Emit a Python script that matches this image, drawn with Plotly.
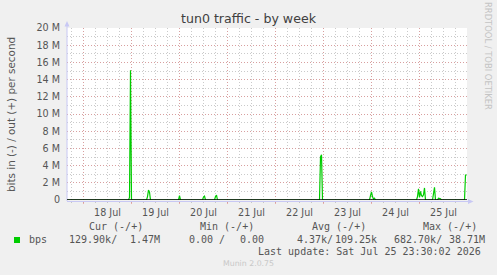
import pandas as pd
import plotly.graph_objects as go

# ---------------- data ----------------
times = [
    "2026-07-17 15:30", "2026-07-18 22:30", "2026-07-18 23:00", "2026-07-18 23:30", "2026-07-19 00:00",
    "2026-07-19 07:30", "2026-07-19 08:00", "2026-07-19 08:30", "2026-07-19 09:00", "2026-07-19 09:30",
    "2026-07-19 23:30", "2026-07-20 00:00", "2026-07-20 00:30",
    "2026-07-20 11:30", "2026-07-20 12:00", "2026-07-20 12:30", "2026-07-20 13:00",
    "2026-07-20 17:30", "2026-07-20 18:00", "2026-07-20 18:30", "2026-07-20 19:00",
    "2026-07-22 22:00", "2026-07-22 22:30", "2026-07-22 23:00", "2026-07-22 23:30",
    "2026-07-23 23:00", "2026-07-23 23:30", "2026-07-24 00:00", "2026-07-24 00:30", "2026-07-24 01:00",
    "2026-07-24 01:30", "2026-07-24 02:00",
    "2026-07-24 22:30", "2026-07-24 23:00", "2026-07-24 23:30", "2026-07-25 00:00", "2026-07-25 00:30",
    "2026-07-25 01:00", "2026-07-25 01:30", "2026-07-25 02:00", "2026-07-25 02:30", "2026-07-25 03:00",
    "2026-07-25 06:30", "2026-07-25 07:00", "2026-07-25 07:30", "2026-07-25 08:00",
    "2026-07-25 09:00", "2026-07-25 09:30", "2026-07-25 10:00", "2026-07-25 10:30", "2026-07-25 11:00",
    "2026-07-25 16:30", "2026-07-25 17:00", "2026-07-25 17:30",
    "2026-07-25 22:30", "2026-07-25 23:00", "2026-07-25 23:30",
]
out_bps = [
    0, 0, 0.3e6, 15.1e6, 0,
    0, 0.4e6, 1.15e6, 0.9e6, 0,
    0, 0.5e6, 0,
    0, 0.35e6, 0.45e6, 0,
    0, 0.4e6, 0.58e6, 0,
    0, 5.0e6, 5.25e6, 0,
    0, 0.5e6, 0.95e6, 0.4e6, 0.1e6,
    0.2e6, 0,
    0, 0.4e6, 1.3e6, 0.3e6, 1.0e6,
    0.5e6, 0.4e6, 0.6e6, 1.4e6, 0,
    0, 0.8e6, 1.48e6, 0,
    0, 0.2e6, 0.2e6, 0.15e6, 0,
    0, 0.08e6, 0,
    0, 2.9e6, 2.9e6,
]

day_labels = ["18 Jul", "19 Jul", "20 Jul", "21 Jul", "22 Jul", "23 Jul", "24 Jul", "25 Jul"]
day_noons = ["2026-07-18 12:00", "2026-07-19 12:00", "2026-07-20 12:00", "2026-07-21 12:00",
             "2026-07-22 12:00", "2026-07-23 12:00", "2026-07-24 12:00", "2026-07-25 12:00"]
midnights = ["2026-07-18", "2026-07-19", "2026-07-20", "2026-07-21", "2026-07-22",
             "2026-07-23", "2026-07-24", "2026-07-25"]
y_ticks = [0, 2e6, 4e6, 6e6, 8e6, 10e6, 12e6, 14e6, 16e6, 18e6, 20e6]
y_labels = ["0", "2 M", "4 M", "6 M", "8 M", "10 M", "12 M", "14 M", "16 M", "18 M", "20 M"]

x_range = ["2026-07-17 15:45", "2026-07-25 23:45"]

col_headers = ["Cur (-/+)", "Min (-/+)", "Avg (-/+)", "Max (-/+)"]
series_name = "bps"
values_text = ["129.90k/", "1.47M", "0.00 /", "0.00", "4.37k/", "109.25k", "682.70k/", "38.71M"]
last_update = "Last update: Sat Jul 25 23:30:02 2026"
footer = "Munin 2.0.75"
title = "tun0 traffic - by week"
y_title = "bits in (-) / out (+) per second"
side_text = "RRDTOOL / TOBI OETIKER"

# ---------------- layout geometry ----------------
W, H = 497, 275
L, T, PW, PH = 67, 28, 400, 172
R, B = W - L - PW, H - T - PH


def px(x):
    return (x - L) / PW


def py(y):
    return (T + PH - y) / PH


GREEN = "#00CC00"
MGRID = "rgba(225,130,130,0.6)"
GRID = "rgba(180,180,180,0.7)"
AXIS = "#C8C8F4"
TXT = "#555555"
MONO = "DejaVu Sans Mono"
SANS = "DejaVu Sans"

fig = go.Figure()
fig.add_trace(go.Scatter(
    x=pd.to_datetime(times), y=out_bps, mode="lines",
    line=dict(color=GREEN, width=1.2), hoverinfo="skip", showlegend=False,
))
# invisible trace for label axis
fig.add_trace(go.Scatter(
    x=pd.to_datetime(times[:1]), y=[0], mode="markers", marker=dict(opacity=0),
    xaxis="x2", hoverinfo="skip", showlegend=False,
))

fig.update_layout(
    width=W, height=H,
    margin=dict(l=L, r=R, t=T, b=B, pad=0),
    paper_bgcolor="#F0F0F0", plot_bgcolor="#FFFFFF",
    showlegend=False,
    xaxis=dict(
        type="date", range=x_range,
        tickmode="array", tickvals=pd.to_datetime(midnights), showticklabels=False,
        showgrid=True, gridcolor=MGRID, griddash="1px,2px", gridwidth=1,
        ticks="outside", ticklen=3, tickcolor=MGRID, tickwidth=1,
        minor=dict(dtick=6 * 3600 * 1000, tick0="2026-07-18", showgrid=True,
                   gridcolor=GRID, griddash="1px,2px", gridwidth=1,
                   ticks="outside", ticklen=2, tickcolor=GRID),
        showline=False, zeroline=False, fixedrange=True,
    ),
    xaxis2=dict(
        type="date", range=x_range, overlaying="x", anchor="y", side="bottom",
        tickmode="array", tickvals=pd.to_datetime(day_noons), ticktext=day_labels,
        showgrid=False, ticks="outside", ticklen=3, tickcolor="rgba(0,0,0,0)",
        tickfont=dict(family=SANS, size=9.6, color=TXT),
        showline=False, zeroline=False,
    ),
    yaxis=dict(
        range=[0, 20e6], tickmode="array", tickvals=y_ticks, ticktext=y_labels,
        showgrid=True, gridcolor=MGRID, griddash="1px,2px", gridwidth=1,
        minor=dict(dtick=1e6, showgrid=True, gridcolor=GRID, griddash="1px,2px", gridwidth=1),
        ticks="", ticklabelstandoff=6,
        tickfont=dict(family=SANS, size=9.6, color=TXT),
        showline=False, zeroline=False, fixedrange=True,
    ),
)

shapes = []
# y axis line with arrow
shapes.append(dict(type="line", xref="paper", yref="paper", x0=px(67), x1=px(67), y0=py(201), y1=py(24),
                   line=dict(color=AXIS, width=1), layer="above"))
shapes.append(dict(type="path", xref="paper", yref="paper",
                   path=f"M {px(67)} {py(21)} L {px(64.5)} {py(26.5)} L {px(69.5)} {py(26.5)} Z",
                   fillcolor=AXIS, line=dict(width=0), layer="above"))
# x axis line with arrow
shapes.append(dict(type="line", xref="paper", yref="paper", x0=px(67), x1=px(469), y0=py(201.5), y1=py(201.5),
                   line=dict(color=AXIS, width=1), layer="above"))
shapes.append(dict(type="path", xref="paper", yref="paper",
                   path=f"M {px(473.5)} {py(201.5)} L {px(468)} {py(199)} L {px(468)} {py(204)} Z",
                   fillcolor=AXIS, line=dict(width=0), layer="above"))
# zero line (black) on top
shapes.append(dict(type="line", xref="paper", yref="y", x0=0, x1=1, y0=0, y1=0,
                   line=dict(color="#000000", width=1.6), layer="above"))
# legend swatch
shapes.append(dict(type="rect", xref="paper", yref="paper", x0=px(14), x1=px(20), y0=py(243), y1=py(237),
                   fillcolor=GREEN, line=dict(width=0)))
fig.update_layout(shapes=shapes)

ann = []


def text(x, y, s, font, size, color, xanchor="left", angle=0):
    ann.append(dict(x=px(x), y=py(y), xref="paper", yref="paper", text=s, showarrow=False,
                    xanchor=xanchor, yanchor="middle", textangle=angle,
                    font=dict(family=font, size=size, color=color)))


text(249, 19, title, SANS, 12.6, "#404040", "center")
text(11, 115, y_title, SANS, 10.4, TXT, "center", -90)
text(488, 56, side_text, SANS, 8.4, "#C4C4C4", "center", 90)

hdr_x = [116, 227, 338.5, 449.5]
for s, x in zip(col_headers, hdr_x):
    text(x, 226.7, s, MONO, 10, TXT, "center")

text(27, 239.7, series_name, MONO, 10, TXT)
val_x = [67, 128, 187, 238, 295, 333, 392, 447]
for s, x in zip(values_text, val_x):
    text(x, 239.7, s, MONO, 10, TXT)

text(483, 251.7, last_update, MONO, 10, TXT, "right")
text(248, 263, footer, SANS, 7.8, "#C8C8C8", "center")

fig.update_layout(annotations=ann)
fig.write_html("out.html")
